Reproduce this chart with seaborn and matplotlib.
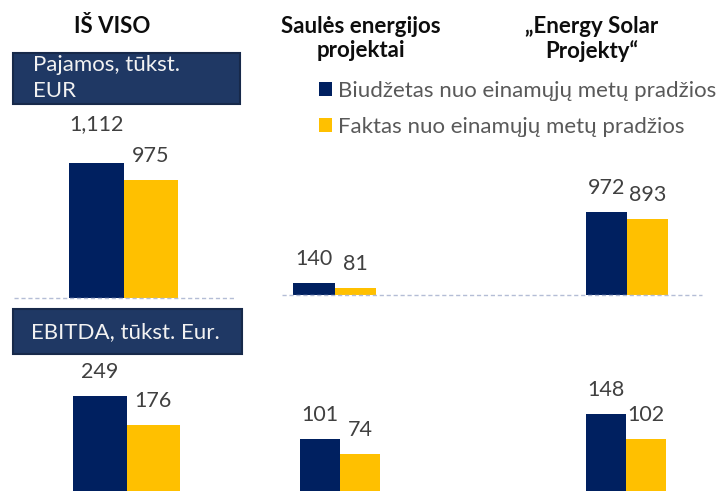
import matplotlib
matplotlib.use("Agg")
import matplotlib.pyplot as plt
import seaborn as sns
import pandas as pd
from matplotlib.patches import Rectangle
from matplotlib.lines import Line2D

# data
series = ["Biudžetas nuo einamųjų metų pradžios", "Faktas nuo einamųjų metų pradžios"]
groups = ["IŠ VISO", "Saulės energijos\nprojektai", "„Energy Solar\nProjekty“"]
revenue_budget = [1112, 140, 972]
revenue_actual = [975, 81, 893]
ebitda_budget = [249, 101, 148]
ebitda_actual = [176, 74, 102]
colors = ["#002060", "#FFC000"]

sns.set_style("white")
plt.rcParams["font.family"] = ["Lato", "DejaVu Sans"]

W, H = 720, 491
fig = plt.figure(figsize=(7.2, 4.91), dpi=100)


def panel(cx, group_w, base_y, px_per_unit, budget, actual, lift=None, legend=False):
    # axes placed in pixel space so that the bar pair spans group_w px around cx
    ax_w = group_w / 0.8
    ax_h = 400
    left = (cx - ax_w / 2) / W
    bottom = (H - base_y) / H
    ax = fig.add_axes([left, bottom, ax_w / W, ax_h / H])
    df = pd.DataFrame({"g": ["x", "x"], "val": [budget, actual], "s": series})
    sns.barplot(data=df, x="g", y="val", hue="s", palette=colors, ax=ax,
                legend=legend, saturation=1, linewidth=0)
    ax.set_xlim(-0.5, 0.5)
    ax.set_ylim(0, ax_h / px_per_unit)
    ax.axis("off")
    for i, bar in enumerate(ax.patches[:2]):
        off = 13 if lift is None or lift[i] is None else lift[i]
        ax.annotate(f"{int(bar.get_height()):,}",
                    (bar.get_x() + bar.get_width() / 2, bar.get_height()),
                    xytext=(0, off), textcoords="offset points",
                    ha="center", va="baseline", fontsize=15.5, color="#404040")
    return ax


# revenue row
panel(123.5, 109, 298, 0.1214, revenue_budget[0], revenue_actual[0], lift=[24, None])
ax_leg = panel(334.5, 83, 295, 0.085, revenue_budget[1], revenue_actual[1], legend=True)
panel(627, 82, 295, 0.085, revenue_budget[2], revenue_actual[2])

# EBITDA row
panel(126.5, 107, 495, 0.397, ebitda_budget[0], ebitda_actual[0])
panel(340, 80, 495, 0.55, ebitda_budget[1], ebitda_actual[1])
panel(626, 80, 495, 0.55, ebitda_budget[2], ebitda_actual[2])

# dashed baselines
for x0, x1, y in [(14, 235, 298), (282, 702, 295)]:
    fig.add_artist(Line2D([x0 / W, x1 / W], [1 - y / H, 1 - y / H], color="#b4bdd6",
                          lw=1, ls=(0, (3, 2))))

# group headers
for cx, txt in zip([112, 361, 592], groups):
    fig.text(cx / W, 1 - 16 / H, txt, ha="center", va="top", fontsize=16,
             fontweight="bold", color="#0d0d0d", linespacing=1.15)

# metric boxes
for (x0, y0, x1, y1) in [(13, 53, 240, 104), (13, 309, 242, 354)]:
    fig.add_artist(Rectangle((x0 / W, 1 - y1 / H), (x1 - x0) / W, (y1 - y0) / H,
                             facecolor="#1f3864", edgecolor="#17294a", lw=1.5,
                             transform=fig.transFigure))
fig.text(33 / W, 1 - 55 / H, "Pajamos, tūkst.\nEUR", ha="left", va="top",
         fontsize=16, color="#f2f2f2", linespacing=1.4)
fig.text(125 / W, 1 - 332 / H, "EBITDA, tūkst. Eur.", ha="center", va="center",
         fontsize=16, color="#f2f2f2")

sns.move_legend(ax_leg, "upper left", bbox_to_anchor=(319 / W, 1 - 81 / H),
                bbox_transform=fig.transFigure, frameon=False, title=None,
                fontsize=16, handlelength=0.6, handleheight=0.6,
                handletextpad=0.27, labelspacing=0.7, labelcolor="#595959",
                borderpad=0, borderaxespad=0)

fig.savefig("out.png", dpi=100)
